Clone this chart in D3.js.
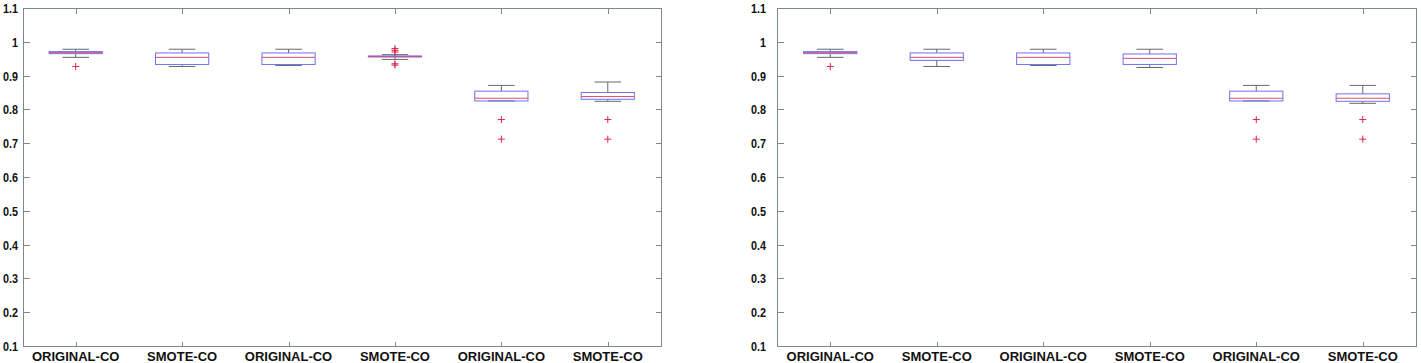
<!DOCTYPE html>
<html>
<head>
<meta charset="utf-8">
<script src="https://cdn.jsdelivr.net/npm/d3@7"></script>
<style>
  body { margin: 0; background: #fff; }
  svg { display: block; }
  .tickLabel { font-family: "Liberation Sans", Arial, sans-serif; font-weight: bold; font-size: 13px; fill: #111; }
  .yLabel { font-size: 13.5px; }
</style>
</head>
<body>
<div id="chart"></div>
<script>
// categories along x (same for both panels)
const categories = ["ORIGINAL-CO", "SMOTE-CO", "ORIGINAL-CO", "SMOTE-CO", "ORIGINAL-CO", "SMOTE-CO"];
const yTicks = [0.1, 0.2, 0.3, 0.4, 0.5, 0.6, 0.7, 0.8, 0.9, 1, 1.1];

// left panel box statistics
const leftLower   = [0.954, 0.927, 0.930, 0.948, 0.825, 0.824];
const leftQ1      = [0.965, 0.933, 0.933, 0.955, 0.825, 0.830];
const leftMedian  = [0.968, 0.954, 0.954, 0.957, 0.833, 0.838];
const leftQ3      = [0.971, 0.967, 0.967, 0.958, 0.854, 0.850];
const leftUpper   = [0.978, 0.978, 0.978, 0.962, 0.871, 0.881];
const leftOutliers = [[0.927], [], [], [0.980, 0.975, 0.970, 0.935, 0.931], [0.770, 0.712], [0.770, 0.712]];

// right panel box statistics
const rightLower   = [0.954, 0.927, 0.930, 0.924, 0.825, 0.818];
const rightQ1      = [0.965, 0.945, 0.933, 0.933, 0.825, 0.824];
const rightMedian  = [0.968, 0.954, 0.954, 0.951, 0.833, 0.833];
const rightQ3      = [0.971, 0.967, 0.967, 0.964, 0.854, 0.846];
const rightUpper   = [0.978, 0.978, 0.978, 0.978, 0.871, 0.871];
const rightOutliers = [[0.927], [], [], [], [0.770, 0.712], [0.770, 0.712]];

const W = 1421, H = 363;
const plotTop = 8, plotBottom = 346;
const axisColor = "#7d8888";
const boxColor = "#6f6ff2";
const medColor = "#d8506a";
const whiskColor = "#646a6a";
const outColor = "#e0254a";

const svg = d3.select("#chart").append("svg")
    .attr("width", W)
    .attr("height", H);

const y = d3.scaleLinear().domain([0.1, 1.1]).range([plotBottom, plotTop]);

function panel(x0, x1, labelX, lower, q1, med, q3, upper, outliers) {
    const x = d3.scaleLinear().domain([0.5, 6.5]).range([x0, x1]);
    const g = svg.append("g");
    const unit = x(1) - x(0);
    const px = v => Math.round(v) + 0.5;

    // frame
    g.append("rect")
        .attr("x", px(x0)).attr("y", px(plotTop))
        .attr("width", Math.round(x1) - Math.round(x0))
        .attr("height", Math.round(plotBottom) - Math.round(plotTop))
        .attr("fill", "none")
        .attr("stroke", axisColor)
        .attr("shape-rendering", "crispEdges");

    // y ticks (inward, both sides)
    yTicks.forEach(t => {
        const yy = px(y(t));
        g.append("line").attr("x1", px(x0)).attr("x2", px(x0) + 6).attr("y1", yy).attr("y2", yy)
            .attr("stroke", axisColor).attr("shape-rendering", "crispEdges");
        g.append("line").attr("x1", px(x1)).attr("x2", px(x1) - 6).attr("y1", yy).attr("y2", yy)
            .attr("stroke", axisColor).attr("shape-rendering", "crispEdges");
        // digits in the reference are narrow, so squeeze horizontally
        g.append("text").attr("class", "tickLabel yLabel")
            .attr("transform", `translate(${labelX},${y(t) + 5}) scale(0.8,1)`)
            .attr("text-anchor", "end")
            .text(d3.format("")(t));
    });

    // x ticks + labels
    categories.forEach((c, i) => {
        const xx = px(x(i + 1));
        g.append("line").attr("x1", xx).attr("x2", xx).attr("y1", px(plotTop)).attr("y2", px(plotTop) + 5)
            .attr("stroke", axisColor).attr("shape-rendering", "crispEdges");
        g.append("line").attr("x1", xx).attr("x2", xx).attr("y1", px(plotBottom)).attr("y2", px(plotBottom) - 5)
            .attr("stroke", axisColor).attr("shape-rendering", "crispEdges");
        g.append("text").attr("class", "tickLabel")
            .attr("x", x(i + 1)).attr("y", 361)
            .attr("text-anchor", "middle")
            .text(c);
    });

    // boxes
    categories.forEach((c, i) => {
        const cx = x(i + 1);
        const bw = unit * 0.5, cw = unit * 0.25;
        const line = (xa, xb, ya, yb, col) => g.append("line")
            .attr("x1", xa).attr("x2", xb).attr("y1", ya).attr("y2", yb)
            .attr("stroke", col).attr("stroke-width", 1);
        // whiskers
        line(cx, cx, y(upper[i]), y(q3[i]), whiskColor);
        line(cx, cx, y(lower[i]), y(q1[i]), whiskColor);
        line(cx - cw / 2, cx + cw / 2, y(upper[i]), y(upper[i]), whiskColor);
        line(cx - cw / 2, cx + cw / 2, y(lower[i]), y(lower[i]), whiskColor);
        // box
        g.append("rect")
            .attr("x", cx - bw / 2).attr("y", y(q3[i]))
            .attr("width", bw).attr("height", Math.max(1, y(q1[i]) - y(q3[i])))
            .attr("fill", "none").attr("stroke", boxColor).attr("stroke-width", 1);
        // median
        line(cx - bw / 2, cx + bw / 2, y(med[i]), y(med[i]), medColor);
        // outliers
        outliers[i].forEach(o => {
            const oy = y(o);
            line(cx - 3.5, cx + 3.5, oy, oy, outColor);
            line(cx, cx, oy - 3.5, oy + 3.5, outColor);
        });
    });
}

panel(22.5, 661, 18, leftLower, leftQ1, leftMedian, leftQ3, leftUpper, leftOutliers);
panel(777, 1416, 766, rightLower, rightQ1, rightMedian, rightQ3, rightUpper, rightOutliers);
</script>
</body>
</html>
